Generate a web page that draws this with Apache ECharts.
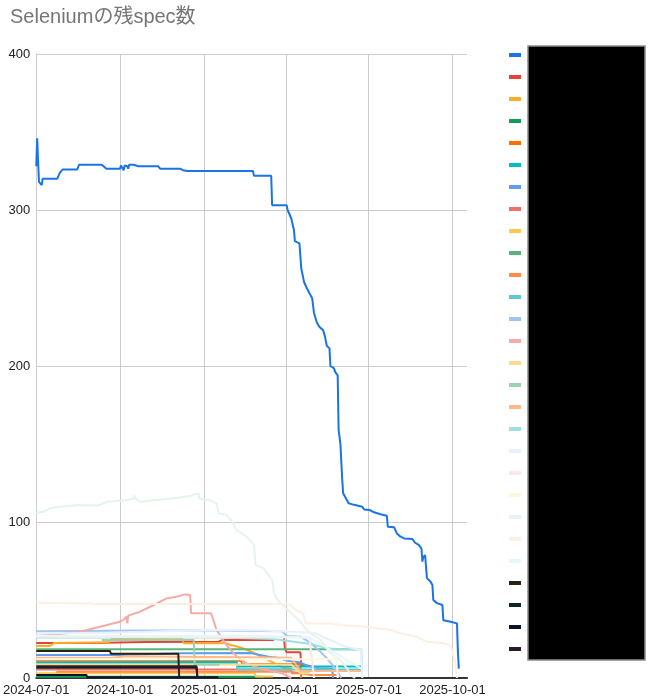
<!DOCTYPE html>
<html>
<head>
<meta charset="utf-8">
<script src="https://cdn.jsdelivr.net/npm/echarts@6/dist/echarts.min.js"></script>
<style>
html,body{margin:0;padding:0;background:#fff;}
#chart{width:648px;height:700px;}
</style>
</head>
<body>
<div id="chart"></div>
<script>
// x values are days since 2024-07-01
const START = [2024, 6, 1];
const xTickLabels = ['2024-07-01','2024-10-01','2025-01-01','2025-04-01','2025-07-01','2025-10-01'];
const xEndDay = 473;
const yTicks = [0,100,200,300,400];

const seriesNames = ['spec-01','spec-02','spec-03','spec-04','spec-05','spec-06','spec-07','spec-08','spec-09','spec-10','spec-11','spec-12','spec-13','spec-14','spec-15','spec-16','spec-17','spec-18','spec-19','spec-20','spec-21','spec-22','spec-23','spec-24','spec-25','spec-26','spec-27','spec-28'];
const seriesColors = ['#1a73e8','#ea4335','#fbad27','#0f9d58','#ff6d01','#00bcbf','#5e9df0','#f36f6a','#fcc94a','#57b677','#ff8c49','#5ccbd0','#a2c4f5','#f7aaa5','#fddb8c','#9bd3ae','#ffb88a','#9ee0e2','#e8f0fe','#fce8e6','#fef7e0','#e6f4ea','#feefe3','#e4f7fb','#2a2113','#0a2828','#0b1230','#2a1a2a'];

const s01 = [[0,328],[1,346],[3,318],[5,318],[6,316],[7,320],[23,320],[26,324],[29,326],[45,326],[47,329],[72,329],[77,326.5],[92,326.5],[93,328.5],[95,328.5],[96,325.5],[97,328.5],[100,328],[101,326.5],[102,329],[107,329],[109,330],[112,328],[134,328],[136,326.5],[158,326.5],[161,325.5],[162,326],[166,325],[238,325],[239,322],[258,322],[259,303],[275,303],[276,300],[280,294.7],[283,287],[284,280],[289,278.6],[291,262.6],[294,254],[297,250],[300,246.6],[303,243.4],[305,234],[308,228],[310,227],[311,225],[315,223],[317,219],[319,213],[322,211.3],[323,200],[327,198.5],[328,196.4],[330,197.4],[331,194],[332,159],[334,150],[336,127],[337,118.4],[343,112],[349,111],[358,109.8],[360,108],[366,107.7],[371,106.2],[378,105],[385,104],[386,97],[393,96.6],[396,92.7],[400,90.6],[404,89.5],[413,89.1],[416,86.7],[420,85.3],[423,83],[424,74.6],[425,77.4],[427,78.8],[428,71.4],[429,64],[433,61.7],[435,59.6],[436,50],[440,48],[446,46.8],[447,37],[455,36],[462,35],[463,17],[464,6]];
const s02 = [[0,22.5],[60,22.5],[120,23],[200,23.3],[205,24.4],[261,24.4],[262,null],[272,26.5],[273,19],[275,16.5],[290,16.5],[291,8.3],[296,8.3]];
const s03 = [[0,20.5],[15,20.5],[20,22.5],[80,22.9],[83,25.4],[160,25.4],[162,22.2],[208,22.2],[215,21],[225,19.4],[236,16.9],[251,12.6],[262,9.4],[273,6.2],[281,6]];
const s04 = [[0,0.8],[248,0.8],[249,0]];
const s05 = [[0,11],[225,11],[226,9],[290,9],[291,0]];
const s06 = [[0,10],[220,10.3],[221,7.3],[357,7.3]];
const s07 = [[0,14.7],[90,14.7],[91,15.8],[160,15.8],[235,16],[255,13.7],[265,13],[276,11],[290,10],[296,8.3],[310,6.2],[325,6],[326,0]];
const s08 = [[0,5.5],[280,5.5],[281,3],[300,3]];
const s09 = [[0,3],[240,3],[241,1],[260,1]];
const s10 = [[0,18.4],[353,18.4]];
const s11 = [[22,4],[280,4],[300,2],[330,2]];
const s12 = [[0,9],[220,9],[221,5.5],[357,5.5]];
const s13 = [[0,30],[120,30.5],[200,30.5],[270,30],[275,27],[290,26.5],[300,23],[310,18],[320,12],[330,5],[335,0]];
const s14 = [[0,27],[26,28.2],[48,29.7],[70,32.9],[92,36],[97,38],[99,39.3],[100,35],[101,40],[114,42.5],[129,46.8],[143,51],[154,52.1],[163,53.6],[169,53.2],[170,41.5],[192,41.5],[198,30.8],[209,21],[220,13.7],[231,9.4],[246,6],[270,3],[280,0]];
const s15 = [[0,8.7],[280,8.7],[290,3],[300,3]];
const s16 = [[72,24.4],[173,24.4],[174,8.5],[200,8.5],[201,8]];
const s17 = [[0,13],[82,13],[83,14],[100,14],[101,13],[280,13],[290,4.5],[357,4.5]];
const s18 = [[0,26],[200,26],[260,25],[300,22],[320,19],[330,18.4],[357,18.4],[358,4]];
const s19 = [[0,28.5],[80,29],[200,31],[250,30.5],[305,29],[320,25],[340,20],[357,18],[358,0]];
const s20 = [[0,26.5],[300,26],[305,0]];
const s21 = [[0,12],[330,12],[331,0]];
const s22 = [[0,106],[8,106.6],[15,108.8],[26,109.8],[48,110.9],[67,110.5],[78,113],[100,114],[107,115.2],[108,117],[109,115],[114,113],[129,114],[151,115.2],[169,116.7],[178,118.5],[179,115],[180,114.5],[191,114],[198,112],[200,105.6],[209,104.5],[215,100.2],[220,94.9],[231,90.6],[239,85.3],[241,72.4],[250,70.3],[255,66],[259,62.8],[261,54.3],[264,51],[270,47],[280,41.6],[290,36],[297,30.8],[312,24.4],[323,16],[334,11.5],[341,6.4],[345,2],[350,0]];
const s23 = [[0,48.3],[60,47.8],[62,48.5],[63,47.5],[170,47.5],[275,47.4],[279,47],[285,43.6],[293,41.5],[296,35],[323,35],[334,34],[359,33],[389,30.8],[400,28.6],[418,26.5],[429,23.3],[447,22.2],[455,21],[460,10],[462,0]];
const s24 = [[0,27],[250,27],[290,26],[300,26],[357,6]];
const s25 = [[0,17.3],[81,17.3],[82,15.5],[156,15.5],[157,0]];
const s26 = [[0,6.5],[176,6.5],[177,0]];
const s27 = [[0,2],[55,2],[56,0.5],[200,0.5]];
const s28 = [[0,7.5],[176,7.5],[177,0]];

const allData = [s01,s02,s03,s04,s05,s06,s07,s08,s09,s10,s11,s12,s13,s14,s15,s16,s17,s18,s19,s20,s21,s22,s23,s24,s25,s26,s27,s28];

function ts(day){ return new Date(START[0], START[1], START[2] + day).getTime(); }
function tsStr(s){ const p = s.split('-').map(Number); return new Date(p[0], p[1]-1, p[2]).getTime(); }
const xTickValues = xTickLabels.map(tsStr);

const series = allData.map((d,i)=>({
  name: seriesNames[i],
  type: 'line',
  data: d.map(p=>[ts(p[0]), p[1]]),
  showSymbol: false,
  symbol: 'none',
  connectNulls: false,
  lineStyle: {width: 2, color: seriesColors[i]},
  itemStyle: {color: seriesColors[i]},
  animation: false
}));

function pad(n){ return (n<10?'0':'')+n; }

const chart = echarts.init(document.getElementById('chart'), null, {renderer:'canvas'});
chart.setOption({
  animation: false,
  backgroundColor: '#fff',
  title: {
    text: 'Seleniumの残spec数',
    left: 5, top: 2,
    textStyle: {fontFamily: 'Liberation Sans, Arial, "Noto Sans CJK JP", sans-serif', fontSize: 20, fontWeight: 'normal', color: '#757575'}
  },
  grid: {left: 36, top: 54, right: 181, bottom: 22, containLabel: false},
  xAxis: {
    type: 'value',
    min: ts(0), max: ts(xEndDay),
    axisLine: {show: true, onZero: false, lineStyle: {color: '#333', width: 2}},
    axisTick: {show: false, customValues: xTickValues},
    splitLine: {show: true, lineStyle: {color: '#cccccc', width: 1}},
    axisLabel: {
      customValues: xTickValues,
      formatter: function(v){ const d = new Date(v); return d.getFullYear()+'-'+pad(d.getMonth()+1)+'-'+pad(d.getDate()); },
      color: '#222', fontSize: 13, fontFamily: 'Liberation Sans, Arial, sans-serif',
      margin: 6, hideOverlap: false, showMinLabel: true, showMaxLabel: true
    }
  },
  yAxis: {
    type: 'value', min: yTicks[0], max: yTicks[yTicks.length-1], interval: 100,
    axisLine: {show: true, lineStyle: {color: '#cccccc'}},
    axisTick: {show: false},
    splitLine: {show: true, lineStyle: {color: '#cccccc', width: 1}},
    axisLabel: {color: '#222', fontSize: 13, fontFamily: 'Liberation Sans, Arial, sans-serif', margin: 6}
  },
  legend: {
    orient: 'vertical',
    left: 504, top: 43,
    icon: 'rect',
    itemWidth: 12, itemHeight: 4,
    itemGap: 8,
    textStyle: {color: '#000', fontSize: 12, lineHeight: 14, padding: [0,0,0,6]},
    data: seriesNames
  },
  graphic: [{
    type: 'rect', z: 100, zlevel: 1,
    shape: {x: 528, y: 46, width: 117, height: 614},
    style: {fill: '#000', stroke: '#8a8a8a', lineWidth: 1.5}
  }],
  series: series
});
</script>
</body>
</html>
